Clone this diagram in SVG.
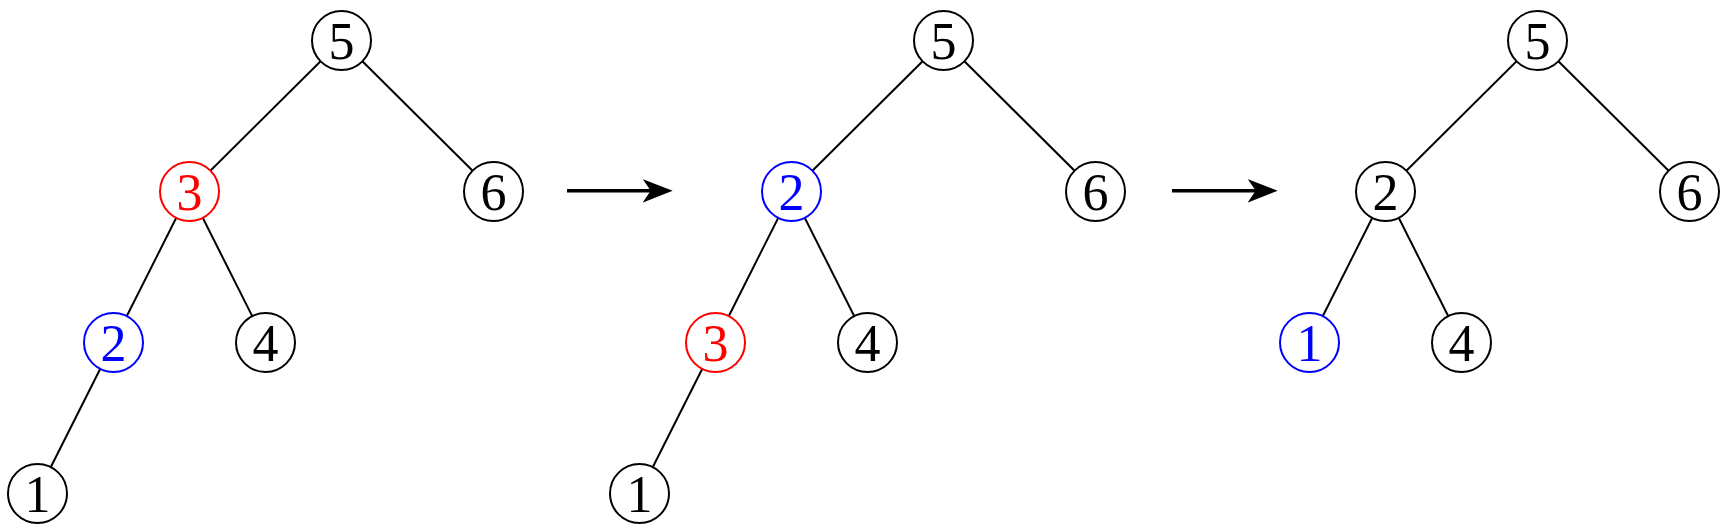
<svg xmlns="http://www.w3.org/2000/svg" width="1725" height="529" viewBox="0 0 1725 529">
<style>
  .edge { stroke: #000; stroke-width: 2; fill: none; }
  .arrow { stroke: #000; stroke-width: 3.6; fill: none; }
  .node circle { fill: #fff; stroke: #000; stroke-width: 2; }
  .node text { font-family: "Liberation Serif", "DejaVu Serif", serif; font-size: 52px; text-anchor: middle; fill: #000; }
  .node.red circle { stroke: #ff0000; }
  .node.red text { fill: #ff0000; }
  .node.blue circle { stroke: #0000ff; }
  .node.blue text { fill: #0000ff; }
</style>
<defs>
  <marker id="head" markerUnits="userSpaceOnUse" viewBox="0 0 30 24" refX="17.3" refY="12" markerWidth="30" markerHeight="24" orient="auto">
    <path d="M0,0.3 L30,12 L0,23.7 L8,12 Z" fill="#000"/>
  </marker>
</defs>
<rect width="1725" height="529" fill="#fff"/>
<g id="connectors">
  <!-- tree 1 -->
  <line class="edge" x1="341.5" y1="40.5" x2="189.5" y2="191.5"/>
  <line class="edge" x1="341.5" y1="40.5" x2="493.5" y2="191.5"/>
  <line class="edge" x1="189.5" y1="191.5" x2="113.5" y2="342.5"/>
  <line class="edge" x1="189.5" y1="191.5" x2="265.5" y2="342.5"/>
  <line class="edge" x1="113.5" y1="342.5" x2="37.5" y2="493.5"/>
  <!-- tree 2 -->
  <line class="edge" x1="943.5" y1="40.5" x2="791.5" y2="191.5"/>
  <line class="edge" x1="943.5" y1="40.5" x2="1095.5" y2="191.5"/>
  <line class="edge" x1="791.5" y1="191.5" x2="715.5" y2="342.5"/>
  <line class="edge" x1="791.5" y1="191.5" x2="867.5" y2="342.5"/>
  <line class="edge" x1="715.5" y1="342.5" x2="639.5" y2="493.5"/>
  <!-- tree 3 -->
  <line class="edge" x1="1537.5" y1="40.5" x2="1385.5" y2="191.5"/>
  <line class="edge" x1="1537.5" y1="40.5" x2="1689.5" y2="191.5"/>
  <line class="edge" x1="1385.5" y1="191.5" x2="1309.5" y2="342.5"/>
  <line class="edge" x1="1385.5" y1="191.5" x2="1461.5" y2="342.5"/>
  <!-- transition arrows -->
  <line class="arrow" x1="567" y1="190.8" x2="660" y2="190.8" marker-end="url(#head)"/>
  <line class="arrow" x1="1172" y1="190.8" x2="1265" y2="190.8" marker-end="url(#head)"/>
</g>
<!-- tree 1 nodes -->
<g id="t1-n5" class="node"><circle cx="341.5" cy="40.5" r="29.5"/><text x="341.5" y="58.5">5</text></g>
<g id="t1-n3" class="node red"><circle cx="189.5" cy="191.5" r="29.5"/><text x="189.5" y="209.5">3</text></g>
<g id="t1-n6" class="node"><circle cx="493.5" cy="191.5" r="29.5"/><text x="493.5" y="209.5">6</text></g>
<g id="t1-n2" class="node blue"><circle cx="113.5" cy="342.5" r="29.5"/><text x="113.5" y="360.5">2</text></g>
<g id="t1-n4" class="node"><circle cx="265.5" cy="342.5" r="29.5"/><text x="265.5" y="360.5">4</text></g>
<g id="t1-n1" class="node"><circle cx="37.5" cy="493.5" r="29.5"/><text x="37.5" y="511.5">1</text></g>
<!-- tree 2 nodes -->
<g id="t2-n5" class="node"><circle cx="943.5" cy="40.5" r="29.5"/><text x="943.5" y="58.5">5</text></g>
<g id="t2-n2" class="node blue"><circle cx="791.5" cy="191.5" r="29.5"/><text x="791.5" y="209.5">2</text></g>
<g id="t2-n6" class="node"><circle cx="1095.5" cy="191.5" r="29.5"/><text x="1095.5" y="209.5">6</text></g>
<g id="t2-n3" class="node red"><circle cx="715.5" cy="342.5" r="29.5"/><text x="715.5" y="360.5">3</text></g>
<g id="t2-n4" class="node"><circle cx="867.5" cy="342.5" r="29.5"/><text x="867.5" y="360.5">4</text></g>
<g id="t2-n1" class="node"><circle cx="639.5" cy="493.5" r="29.5"/><text x="639.5" y="511.5">1</text></g>
<!-- tree 3 nodes -->
<g id="t3-n5" class="node"><circle cx="1537.5" cy="40.5" r="29.5"/><text x="1537.5" y="58.5">5</text></g>
<g id="t3-n2" class="node"><circle cx="1385.5" cy="191.5" r="29.5"/><text x="1385.5" y="209.5">2</text></g>
<g id="t3-n6" class="node"><circle cx="1689.5" cy="191.5" r="29.5"/><text x="1689.5" y="209.5">6</text></g>
<g id="t3-n1" class="node blue"><circle cx="1309.5" cy="342.5" r="29.5"/><text x="1309.5" y="360.5">1</text></g>
<g id="t3-n4" class="node"><circle cx="1461.5" cy="342.5" r="29.5"/><text x="1461.5" y="360.5">4</text></g>
</svg>
